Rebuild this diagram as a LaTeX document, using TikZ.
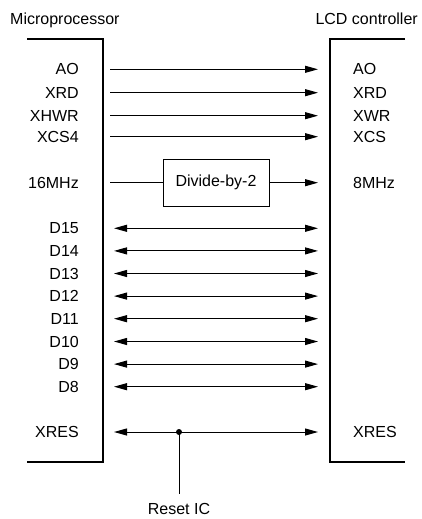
\documentclass[tikz,border=0pt]{standalone}
\usepackage{fontspec}
\setmainfont{Liberation Sans}
\usetikzlibrary{arrows.meta}

\begin{document}
\begin{tikzpicture}[x=1pt,y=-1pt,
		pin/.style={font=\fontsize{16}{18}\selectfont,inner sep=0pt},
		lpin/.style={pin,anchor=east},
		rpin/.style={pin,anchor=west},
		chip/.style={line width=1.3pt},
		sig/.style={line width=1pt,-{Triangle[length=13pt,width=7pt]}},
		bus/.style={line width=1pt,{Triangle[length=13pt,width=7pt]}-{Triangle[length=13pt,width=7pt]}}
		]
		\useasboundingbox (0,0) rectangle (421,519);
		
		% Chip outlines
		\draw[chip] (27,39) -- (103,39) -- (103,462) -- (27,462);
		\draw[chip] (405,39) -- (330,39) -- (330,462) -- (405,462);
		\node[pin,anchor=base west] (mptitle) at (10,25) {Microprocessor};
		\node[pin,anchor=base east] (lcdtitle) at (418,25) {LCD controller};
		
		% Control lines
		\node[lpin] (mpA0) at (79,69.3) {AO};
		\node[lpin] (mpXRD) at (79,92.7) {XRD};
		\node[lpin] (mpXHWR) at (79,115.7) {XHWR};
		\node[lpin] (mpXCS) at (79,136.7) {XCS4};
		\node[rpin] (lcdA0) at (353,69.3) {AO};
		\node[rpin] (lcdXRD) at (353,92.7) {XRD};
		\node[rpin] (lcdXWR) at (353,115.7) {XWR};
		\node[rpin] (lcdXCS) at (353,136.7) {XCS};
		\draw[sig] ([xshift=31pt]mpA0.east) -- ([xshift=-35pt]lcdA0.west);
		\draw[sig] ([xshift=31pt]mpXRD.east) -- ([xshift=-35pt]lcdXRD.west);
		\draw[sig] ([xshift=31pt]mpXHWR.east) -- ([xshift=-35pt]lcdXWR.west);
		\draw[sig] ([xshift=31pt]mpXCS.east) -- ([xshift=-35pt]lcdXCS.west);
		
		% Clock through the divider
		\node[lpin] (mpclk) at (79,182.7) {16MHz};
		\node[rpin] (lcdclk) at (353,182.7) {8MHz};
		\node[pin,draw,line width=1pt,minimum width=106pt,minimum height=47pt] (div) at (216,182.7) {Divide-by-2};
		\draw[line width=1pt] ([xshift=31pt]mpclk.east) -- (div.west);
		\draw[sig] (div.east) -- ([xshift=-35pt]lcdclk.west);
		
		% Data bus
		\node[lpin] (mpD15) at (79,228.3) {D15};
		\node[lpin] (mpD14) at (79,250.9) {D14};
		\node[lpin] (mpD13) at (79,273.5) {D13};
		\node[lpin] (mpD12) at (79,296.1) {D12};
		\node[lpin] (mpD11) at (79,318.7) {D11};
		\node[lpin] (mpD10) at (79,341.5) {D10};
		\node[lpin] (mpD9) at (79,364.1) {D9};
		\node[lpin] (mpD8) at (79,386.7) {D8};
		\foreach \d in {15,14,13,12,11,10,9,8}
		\draw[bus] ([xshift=35pt]mpD\d.east) -- +(204pt,0);
		
		% Reset
		\node[lpin] (mpXRES) at (79,432) {XRES};
		\node[rpin] (lcdXRES) at (353,432) {XRES};
		\draw[bus] ([xshift=35pt]mpXRES.east) -- ([xshift=-35pt]lcdXRES.west);
		\coordinate (jn) at (179,432);
		\fill (jn) circle (3pt);
		\node[pin] (reset) at (179,508.5) {Reset IC};
		\draw[line width=1pt] (jn) -- ([yshift=9pt]reset.north);
		
	\end{tikzpicture}
\end{document}
